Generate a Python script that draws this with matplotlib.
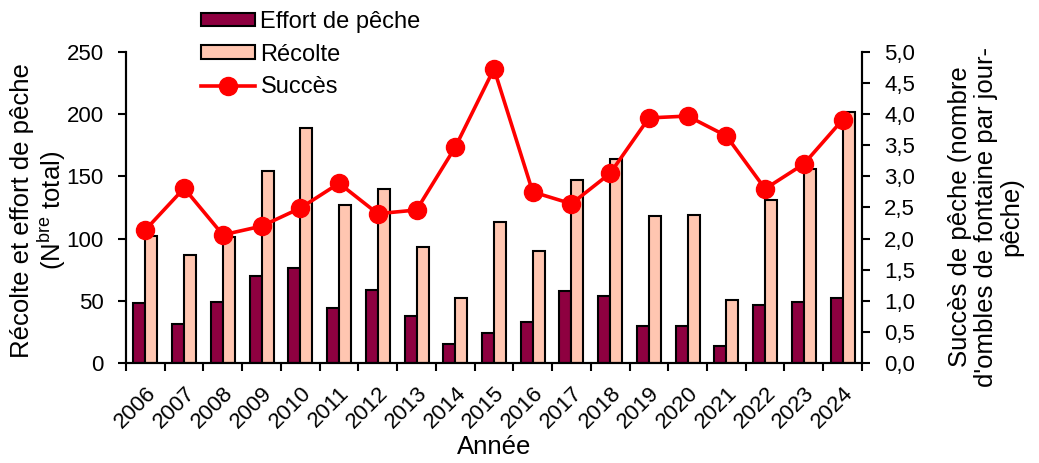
import numpy as np
import matplotlib
matplotlib.use("Agg")
import matplotlib.pyplot as plt
from matplotlib.ticker import FixedLocator, FuncFormatter

plt.rcParams['font.family'] = ['Liberation Sans', 'DejaVu Sans']

# Data
annees = [2006, 2007, 2008, 2009, 2010, 2011, 2012, 2013, 2014, 2015,
          2016, 2017, 2018, 2019, 2020, 2021, 2022, 2023, 2024]
effort = [48, 31, 49, 70, 76, 44, 59, 38, 15, 24,
          33, 58, 54, 30, 30, 14, 47, 49, 52]
recolte = [102, 87, 101, 154, 189, 127, 140, 93, 52, 113,
           90, 147, 164, 118, 119, 51, 131, 156, 202]
succes = [2.14, 2.81, 2.06, 2.20, 2.49, 2.89, 2.40, 2.46, 3.47, 4.73,
          2.75, 2.56, 3.05, 3.94, 3.97, 3.65, 2.80, 3.20, 3.91]

col_effort = "#8E0040"
col_recolte = "#FFC6B1"
col_succes = "#FF0000"

fig = plt.figure(figsize=(10.39, 4.63), dpi=100)
ax = fig.add_axes([0.1213, 0.216, 0.7083, 0.6717])
ax2 = ax.twinx()

x = np.arange(len(annees))
w = 0.31
b1 = ax.bar(x - w / 2, effort, w, color=col_effort, edgecolor="black",
            linewidth=1.5, label="Effort de pêche", zorder=2)
b2 = ax.bar(x + w / 2, recolte, w, color=col_recolte, edgecolor="black",
            linewidth=1.5, label="Récolte", zorder=2)
l1, = ax2.plot(x, succes, color=col_succes, linewidth=2.6, marker="o",
               markersize=13, label="Succès", zorder=3)

ax.set_xlim(-0.5, len(annees) - 0.5)
ax.set_ylim(0, 250)
ax2.set_ylim(0, 5)

ax.set_yticks(np.arange(0, 251, 50))
ax2.set_yticks(np.arange(0, 5.01, 0.5))
ax2.yaxis.set_major_formatter(FuncFormatter(lambda v, p: f"{v:.1f}".replace(".", ",")))

ax.set_xticks(x)
ax.set_xticklabels([str(a) for a in annees], rotation=45, ha="right",
                   rotation_mode="anchor", fontsize=16)
ax.xaxis.set_minor_locator(FixedLocator(np.arange(-0.5, len(annees), 1)))
ax.tick_params(axis="x", which="major", length=0, pad=14)
ax.tick_params(axis="x", which="minor", length=6, width=1.5, direction="out")
ax.tick_params(axis="y", length=6, width=1.5, direction="out", labelsize=16, pad=10)
ax2.tick_params(axis="y", length=6, width=1.5, direction="out", labelsize=16, pad=10)

for a in (ax, ax2):
    a.spines["top"].set_visible(False)
    for s in ("left", "right", "bottom"):
        a.spines[s].set_linewidth(1.5)

ax.set_xlabel("Année", fontsize=18.5, labelpad=2)
ax.set_ylabel("Récolte et effort de pêche\n(N$^{\\mathregular{bre}}$ total)",
              fontsize=18.5, linespacing=1.05)
ax.yaxis.set_label_coords(-0.079, 0.49)
ax2.set_ylabel("Succès de pêche (nombre\nd'ombles de fontaine par jour-\npêche)",
               fontsize=18.5, rotation=90, ha="center",
               multialignment="center", linespacing=1.1)
ax2.yaxis.set_label_coords(1.1168, 0.47)

fig.legend(handles=[b1, b2, l1], loc="upper left",
           bbox_to_anchor=(0.178, 1.012), frameon=False, fontsize=17,
           handlelength=2.25, handleheight=0.5, handletextpad=0.25,
           labelspacing=0.45, borderpad=0.2)

fig.savefig("out.png", dpi=100)
